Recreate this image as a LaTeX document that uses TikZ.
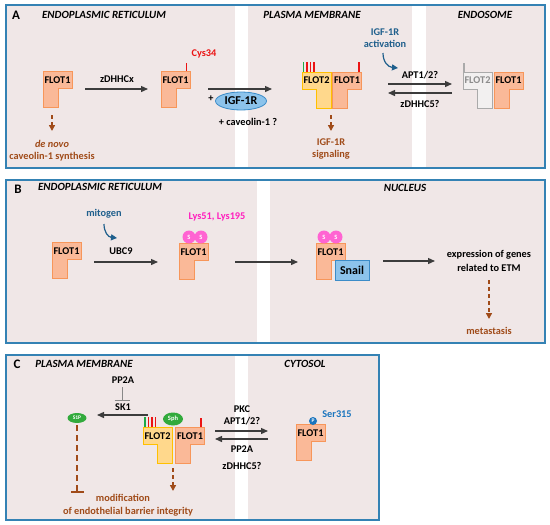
\documentclass[tikz,border=0pt]{standalone}
\usepackage{fontspec}
\setmainfont{Carlito}
\usetikzlibrary{arrows.meta,shapes.geometric}
\definecolor{panelbg}{RGB}{240,231,231}
\definecolor{panelbd}{RGB}{52,130,180}
\definecolor{fonefill}{RGB}{250,185,152}
\definecolor{fonedraw}{RGB}{247,150,90}
\definecolor{ftwofill}{RGB}{255,216,140}
\definecolor{ftwodraw}{RGB}{255,192,0}
\definecolor{grayfill}{RGB}{242,240,240}
\definecolor{graydraw}{RGB}{170,170,170}
\definecolor{graytext}{RGB}{140,140,140}
\definecolor{brownc}{RGB}{160,75,25}
\definecolor{darkblue}{RGB}{31,95,140}
\definecolor{serblue}{RGB}{27,117,190}
\definecolor{arrowc}{RGB}{60,60,60}
\definecolor{sumo}{RGB}{255,100,210}
\definecolor{lyscol}{RGB}{255,30,190}
\definecolor{igffill}{RGB}{140,195,235}
\definecolor{igfdraw}{RGB}{60,140,200}
\definecolor{sphgreen}{RGB}{50,170,60}
\definecolor{barred}{RGB}{235,20,20}
\definecolor{bargreen}{RGB}{30,170,70}
\tikzset{
  panel/.style={fill=panelbg},
  panelborder/.style={draw=panelbd, line width=1.2pt},
  strip/.style={fill=white, draw=none},
  lbl/.style={font=\bfseries\fontsize{10.3}{12}\selectfont, inner sep=0pt},
  biglbl/.style={font=\bfseries\fontsize{13}{15}\selectfont, inner sep=0pt},
  ttl/.style={font=\bfseries\itshape\fontsize{11}{13}\selectfont, inner sep=0pt},
  brownlbl/.style={lbl, text=brownc},
  bluelbl/.style={lbl, text=darkblue},
  fone/.style={fill=fonefill, draw=fonedraw, line width=0.8pt},
  ftwo/.style={fill=ftwofill, draw=ftwodraw, line width=0.8pt},
  fgray/.style={fill=grayfill, draw=graydraw, line width=0.8pt},
  arr/.style={draw=arrowc, line width=1.3pt, -{Triangle[length=7pt,width=6pt]}},
  darr/.style={draw=brownc, line width=1.4pt, dash pattern=on 4pt off 3pt, -{Triangle[length=6pt,width=6pt]}},
  barr/.style={draw=darkblue, line width=1.2pt, -{Triangle[length=6pt,width=6pt]}},
  rbar/.style={draw=barred, line width=1.6pt},
  gbar/.style={draw=bargreen, line width=1.6pt},
  sumoc/.style={circle, fill=sumo, minimum size=13pt, inner sep=0pt, text=white, font=\bfseries\fontsize{6.5}{7}\selectfont},
}
\newcommand{\FOneShape}[3]{%
  \draw[#3] (#1,#2) -- ++(29,0) -- ++(0,17) -- ++(-14,0) -- ++(0,19) -- ++(-15,0) -- cycle;}
\newcommand{\FTwoShape}[3]{%
  \draw[#3] (#1,#2) -- ++(29,0) -- ++(0,36) -- ++(-15,0) -- ++(0,-19) -- ++(-14,0) -- cycle;}
\begin{document}
\begin{tikzpicture}[x=1pt,y=-1pt]
\useasboundingbox (0,0) rectangle (550,525);
% ---------------- panels
\fill[panel] (6,5) rectangle (545,168);
\fill[strip] (235,5) rectangle (248,168);
\fill[strip] (412,5) rectangle (426,168);
\draw[panelborder] (6,5) rectangle (545,168);
\fill[panel] (6,180) rectangle (545,343);
\fill[strip] (257,180) rectangle (270,343);
\draw[panelborder] (6,180) rectangle (545,343);
\fill[panel] (6,355) rectangle (379,520);
\fill[strip] (235,355) rectangle (248,520);
\draw[panelborder] (6,355) rectangle (379,520);

% ================= PANEL A
\node[biglbl] (la) at (16,15) {A};
\node[ttl] (ta1) at (104,15) {ENDOPLASMIC RETICULUM};
\node[ttl] (ta2) at (312,15) {PLASMA MEMBRANE};
\node[ttl] (ta3) at (485,15) {ENDOSOME};

\FOneShape{43}{71}{fone}
\node[lbl] (a1) at (57.5,80) {FLOT1};
\coordinate (a1d) at (52,115); \coordinate (a1dd) at (52,131);
\draw[darr] (a1d) -- (a1dd);
\node[brownlbl, font=\bfseries\itshape\fontsize{10.3}{12}\selectfont] (dn) at (52,144) {de novo};
\node[brownlbl] (cs) at (52,157) {caveolin-1 synthesis};

\node[lbl] (zx) at (117,79) {zDHHCx};
\coordinate (aa1) at (85,89); \coordinate (aa2) at (148,89);
\draw[arr] (aa1) -- (aa2);

\FOneShape{161}{71}{fone}
\node[lbl] (a2) at (175.5,80) {FLOT1};
\coordinate (cb1) at (186.5,63); \coordinate (cb2) at (186.5,71);
\draw[rbar] (cb1) -- (cb2);
\node[lbl, text=barred] (cys) at (204,54) {Cys34};

\coordinate (ab1) at (208,89); \coordinate (ab2) at (272,89);
\draw[arr] (ab1) -- (ab2);
\node[lbl] (plus) at (211,99) {+};
\node[ellipse, fill=igffill, draw=igfdraw, line width=0.8pt, minimum width=51pt, minimum height=18pt, inner sep=0pt, font=\bfseries\fontsize{12}{14}\selectfont] (igf) at (241,101) {IGF-1R};
\node[lbl] (cav) at (248,122) {+ caveolin-1 ?};

% plasma membrane complex
\FTwoShape{302}{72}{ftwo}
\FOneShape{332}{72}{fone}
\node[lbl] (pm2) at (316.5,80.5) {FLOT2};
\node[lbl] (pm1) at (347,80.5) {FLOT1};
\coordinate (g1a) at (303.5,62); \coordinate (g1b) at (303.5,72);
\coordinate (r1a) at (307,62); \coordinate (r1b) at (307,72);
\coordinate (r2a) at (310.5,62); \coordinate (r2b) at (310.5,72);
\coordinate (r3a) at (314,62); \coordinate (r3b) at (314,72);
\coordinate (r4a) at (359,62); \coordinate (r4b) at (359,72);
\draw[gbar] (g1a) -- (g1b);
\draw[rbar] (r1a) -- (r1b);
\draw[rbar] (r2a) -- (r2b);
\draw[rbar] (r3a) -- (r3b);
\draw[rbar] (r4a) -- (r4b);
\coordinate (pd1) at (331,115); \coordinate (pd2) at (331,131);
\draw[darr] (pd1) -- (pd2);
\node[brownlbl] (sig1) at (331,142) {IGF-1R};
\node[brownlbl] (sig2) at (331,155) {signaling};

\node[bluelbl] (act1) at (385,32) {IGF-1R};
\node[bluelbl] (act2) at (385,44) {activation};
\coordinate (bc1) at (383,53); \coordinate (bc2) at (398,68);
\draw[barr] (bc1) .. controls (383,62) and (388,67) .. (bc2);

\node[lbl] (apt) at (420,75) {APT1/2?};
\coordinate (ra1) at (388,84); \coordinate (ra2) at (452,84);
\draw[arr] (ra1) -- (ra2);
\coordinate (la1) at (452,93); \coordinate (la2) at (388,93);
\draw[arr] (la1) -- (la2);
\node[lbl] (zd5) at (420,104) {zDHHC5?};

% endosome complex
\FTwoShape{463}{72}{fgray}
\FOneShape{494}{72}{fone}
\node[lbl, text=graytext] (en2) at (477.5,80.5) {FLOT2};
\node[lbl] (en1) at (508.5,80.5) {FLOT1};
\coordinate (gy1) at (464,63); \coordinate (gy2) at (464,72);
\draw[draw=graydraw, line width=1.6pt] (gy1) -- (gy2);

% ================= PANEL B
\node[biglbl] (lb) at (18,189) {B};
\node[ttl] (tb1) at (100,187) {ENDOPLASMIC RETICULUM};
\node[ttl] (tb2) at (405,188) {NUCLEUS};

\FOneShape{52}{242}{fone}
\node[lbl] (b1) at (66.5,251) {FLOT1};
\node[bluelbl] (mit) at (104,214) {mitogen};
\coordinate (mc1) at (104,224); \coordinate (mc2) at (117,238);
\draw[barr] (mc1) .. controls (104,232) and (108,237) .. (mc2);
\node[lbl] (ubc) at (121,251) {UBC9};
\coordinate (ub1) at (94,262); \coordinate (ub2) at (158,262);
\draw[arr] (ub1) -- (ub2);

\FOneShape{179}{243}{fone}
\node[lbl] (b2) at (193.5,252) {FLOT1};
\node[sumoc] (s1) at (189,237) {S};
\node[sumoc] (s2) at (201,237) {S};
\node[lbl, text=lyscol] (lys) at (217,217) {Lys51, Lys195};
\coordinate (nb1) at (235,262); \coordinate (nb2) at (298,262);
\draw[arr] (nb1) -- (nb2);

\FOneShape{316}{243}{fone}
\node[lbl] (b3) at (330.5,252) {FLOT1};
\node[sumoc] (s3) at (324,237) {S};
\node[sumoc] (s4) at (336,237) {S};
\node[fill=igffill, draw=igfdraw, line width=0.8pt, minimum width=34pt, minimum height=20pt, inner sep=0pt, font=\bfseries\fontsize{12}{14}\selectfont] (snail) at (352,270) {Snail};
\coordinate (eb1) at (383,261); \coordinate (eb2) at (435,261);
\draw[arr] (eb1) -- (eb2);
\node[lbl] (ex1) at (489,255) {expression of genes};
\node[lbl] (ex2) at (489,268) {related to ETM};
\coordinate (md1) at (489,280); \coordinate (md2) at (489,319);
\draw[darr] (md1) -- (md2);
\node[brownlbl] (meta) at (489,331) {metastasis};

% ================= PANEL C
\node[biglbl] (lc) at (17,364) {C};
\node[ttl] (tc1) at (84,364) {PLASMA MEMBRANE};
\node[ttl] (tc2) at (305,364) {CYTOSOL};

\node[lbl] (pp1) at (123,380) {PP2A};
\coordinate (ti1) at (122,387); \coordinate (ti2) at (122,400);
\coordinate (tbar1) at (114.5,400); \coordinate (tbar2) at (129.5,400);
\draw[draw=graydraw!80!black, line width=0.9pt] (ti1) -- (ti2);
\draw[draw=graydraw!80!black, line width=0.9pt] (tbar1) -- (tbar2);
\node[lbl] (sk1) at (123,407) {SK1};
\coordinate (sa1) at (148,415); \coordinate (sa2) at (97,415);
\draw[arr] (sa1) -- (sa2);
\node[ellipse, fill=sphgreen, minimum width=19pt, minimum height=10pt, inner sep=0pt, text=white, font=\bfseries\fontsize{5.5}{6}\selectfont] (s1p) at (77,418) {S1P};
\coordinate (ih1) at (77,425); \coordinate (ih2) at (77,492);
\coordinate (ihb1) at (71,492); \coordinate (ihb2) at (84,492);
\draw[draw=brownc, line width=1.4pt, dash pattern=on 6pt off 4pt] (ih1) -- (ih2);
\draw[draw=brownc, line width=1.4pt] (ihb1) -- (ihb2);

\FTwoShape{143}{427}{ftwo}
\FOneShape{175}{427}{fone}
\node[lbl] (c2) at (157.5,436) {FLOT2};
\node[lbl] (c1) at (190,436) {FLOT1};
\coordinate (cg1a) at (145,417); \coordinate (cg1b) at (145,427);
\coordinate (cr1a) at (148.5,417); \coordinate (cr1b) at (148.5,427);
\coordinate (cr2a) at (152,417); \coordinate (cr2b) at (152,427);
\coordinate (cr3a) at (155.5,417); \coordinate (cr3b) at (155.5,427);
\coordinate (cr4a) at (201,418); \coordinate (cr4b) at (201,427);
\draw[gbar] (cg1a) -- (cg1b);
\draw[rbar] (cr1a) -- (cr1b);
\draw[rbar] (cr2a) -- (cr2b);
\draw[rbar] (cr3a) -- (cr3b);
\draw[rbar] (cr4a) -- (cr4b);
\node[ellipse, fill=sphgreen, minimum width=20pt, minimum height=13pt, inner sep=0pt, text=white, font=\bfseries\fontsize{6.5}{7}\selectfont] (sph) at (173,419) {Sph};
\coordinate (cd1) at (173,468); \coordinate (cd2) at (173,491);
\draw[darr] (cd1) -- (cd2);
\node[brownlbl] (mod1) at (123,498) {modification};
\node[brownlbl] (mod2) at (128,512) {of endothelial barrier integrity};

\node[lbl] (pkc) at (242,409) {PKC};
\node[lbl] (apt2) at (242,421) {APT1/2?};
\coordinate (cra1) at (215,431); \coordinate (cra2) at (268,431);
\draw[arr] (cra1) -- (cra2);
\coordinate (cla1) at (268,439); \coordinate (cla2) at (215,439);
\draw[arr] (cla1) -- (cla2);
\node[lbl] (pp2) at (242,449) {PP2A};
\node[lbl] (zd52) at (242,466) {zDHHC5?};

\FOneShape{296}{424}{fone}
\node[lbl] (cy1) at (310.5,433) {FLOT1};
\node[circle, fill=serblue, minimum size=8pt, inner sep=0pt, text=white, font=\bfseries\fontsize{5.5}{6}\selectfont] (pp) at (313,421) {P};
\node[lbl, text=serblue] (ser) at (337,414) {Ser315};
\end{tikzpicture}
\end{document}
